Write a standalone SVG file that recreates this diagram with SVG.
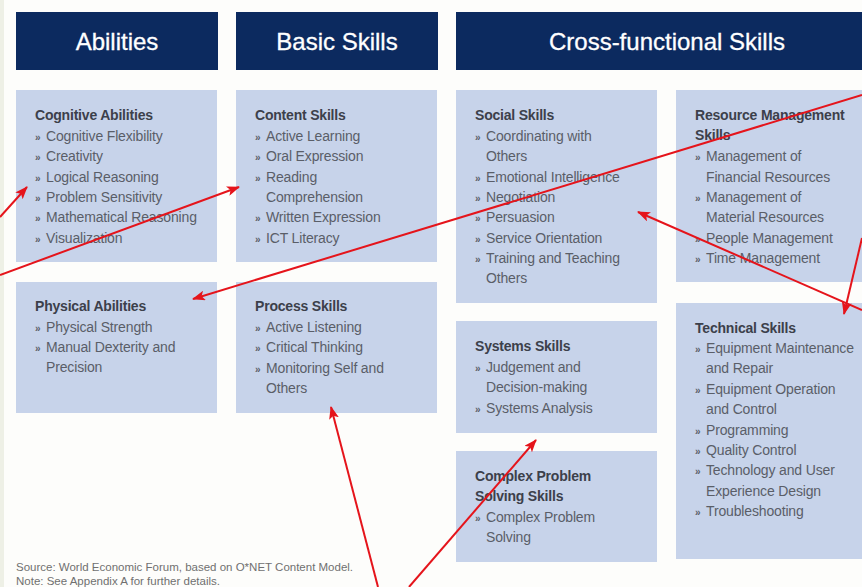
<svg xmlns="http://www.w3.org/2000/svg" width="862" height="587" viewBox="0 0 862 587">
  <style>
    .hdr { fill: #0c2a5f; }
    .hdr-t { font-family: "Liberation Sans", Arial, sans-serif; font-size: 24px; fill: #ffffff; text-anchor: middle; stroke: #ffffff; stroke-width: 0.3px; }
    .box { fill: #c7d3ea; }
    .ttl { font-family: "Liberation Sans", Arial, sans-serif; font-size: 14px; font-weight: bold; fill: #3c404b; letter-spacing: -0.2px; }
    .itm { font-family: "Liberation Sans", Arial, sans-serif; font-size: 14px; fill: #5a5e68; letter-spacing: -0.15px; }
    .bul { font-size: 10px; font-weight: bold; }
    .note { font-family: "Liberation Sans", Arial, sans-serif; font-size: 11.5px; fill: #707070; }
    .arrow { stroke: #e5141b; stroke-width: 2; fill: none; marker-end: url(#head); }
  </style>
  <defs>
    <marker id="head" viewBox="0 0 13 10" refX="12" refY="5" markerWidth="13" markerHeight="10" markerUnits="userSpaceOnUse" orient="auto">
      <path d="M0,0 L13,5 L0,10 L3,5 Z" fill="#e5141b"/>
    </marker>
  </defs>

  <!-- page -->
  <rect x="0" y="0" width="862" height="587" fill="#fdfdfb"/>
  <rect x="0" y="0" width="4" height="587" fill="#eef0e6"/>

  <!-- column headers -->
  <g id="hdr-abilities">
    <rect class="hdr" x="16" y="12" width="202" height="58"/>
    <text class="hdr-t" x="117" y="50">Abilities</text>
  </g>
  <g id="hdr-basic">
    <rect class="hdr" x="236" y="12" width="202" height="58"/>
    <text class="hdr-t" x="337" y="50">Basic Skills</text>
  </g>
  <g id="hdr-cross">
    <rect class="hdr" x="456" y="12" width="420" height="58"/>
    <text class="hdr-t" x="667" y="50">Cross-functional Skills</text>
  </g>

  <!-- Abilities -->
  <g id="cognitive">
    <rect class="box" x="16" y="90" width="201" height="172"/>
    <text class="ttl" x="35" y="120">Cognitive Abilities</text>
    <text class="itm" x="35" y="141"><tspan class="bul">»</tspan><tspan x="46">Cognitive Flexibility</tspan></text>
    <text class="itm" x="35" y="161"><tspan class="bul">»</tspan><tspan x="46">Creativity</tspan></text>
    <text class="itm" x="35" y="182"><tspan class="bul">»</tspan><tspan x="46">Logical Reasoning</tspan></text>
    <text class="itm" x="35" y="202"><tspan class="bul">»</tspan><tspan x="46">Problem Sensitivity</tspan></text>
    <text class="itm" x="35" y="222"><tspan class="bul">»</tspan><tspan x="46">Mathematical Reasoning</tspan></text>
    <text class="itm" x="35" y="243"><tspan class="bul">»</tspan><tspan x="46">Visualization</tspan></text>
  </g>
  <g id="physical">
    <rect class="box" x="16" y="282" width="201" height="131"/>
    <text class="ttl" x="35" y="311">Physical Abilities</text>
    <text class="itm" x="35" y="332"><tspan class="bul">»</tspan><tspan x="46">Physical Strength</tspan></text>
    <text class="itm" x="35" y="352"><tspan class="bul">»</tspan><tspan x="46">Manual Dexterity and</tspan></text>
    <text class="itm" x="46" y="372">Precision</text>
  </g>

  <!-- Basic Skills -->
  <g id="content">
    <rect class="box" x="236" y="90" width="201" height="172"/>
    <text class="ttl" x="255" y="120">Content Skills</text>
    <text class="itm" x="255" y="141"><tspan class="bul">»</tspan><tspan x="266">Active Learning</tspan></text>
    <text class="itm" x="255" y="161"><tspan class="bul">»</tspan><tspan x="266">Oral Expression</tspan></text>
    <text class="itm" x="255" y="182"><tspan class="bul">»</tspan><tspan x="266">Reading</tspan></text>
    <text class="itm" x="266" y="202">Comprehension</text>
    <text class="itm" x="255" y="222"><tspan class="bul">»</tspan><tspan x="266">Written Expression</tspan></text>
    <text class="itm" x="255" y="243"><tspan class="bul">»</tspan><tspan x="266">ICT Literacy</tspan></text>
  </g>
  <g id="process">
    <rect class="box" x="236" y="282" width="201" height="131"/>
    <text class="ttl" x="255" y="311">Process Skills</text>
    <text class="itm" x="255" y="332"><tspan class="bul">»</tspan><tspan x="266">Active Listening</tspan></text>
    <text class="itm" x="255" y="352"><tspan class="bul">»</tspan><tspan x="266">Critical Thinking</tspan></text>
    <text class="itm" x="255" y="373"><tspan class="bul">»</tspan><tspan x="266">Monitoring Self and</tspan></text>
    <text class="itm" x="266" y="393">Others</text>
  </g>

  <!-- Cross-functional Skills -->
  <g id="social">
    <rect class="box" x="456" y="90" width="201" height="213"/>
    <text class="ttl" x="475" y="120">Social Skills</text>
    <text class="itm" x="475" y="141"><tspan class="bul">»</tspan><tspan x="486">Coordinating with</tspan></text>
    <text class="itm" x="486" y="161">Others</text>
    <text class="itm" x="475" y="182"><tspan class="bul">»</tspan><tspan x="486">Emotional Intelligence</tspan></text>
    <text class="itm" x="475" y="202"><tspan class="bul">»</tspan><tspan x="486">Negotiation</tspan></text>
    <text class="itm" x="475" y="222"><tspan class="bul">»</tspan><tspan x="486">Persuasion</tspan></text>
    <text class="itm" x="475" y="243"><tspan class="bul">»</tspan><tspan x="486">Service Orientation</tspan></text>
    <text class="itm" x="475" y="263"><tspan class="bul">»</tspan><tspan x="486">Training and Teaching</tspan></text>
    <text class="itm" x="486" y="283">Others</text>
  </g>
  <g id="resource">
    <rect class="box" x="676" y="90" width="190" height="192"/>
    <text class="ttl" x="695" y="120">Resource Management</text>
    <text class="ttl" x="695" y="140">Skills</text>
    <text class="itm" x="695" y="161"><tspan class="bul">»</tspan><tspan x="706">Management of</tspan></text>
    <text class="itm" x="706" y="182">Financial Resources</text>
    <text class="itm" x="695" y="202"><tspan class="bul">»</tspan><tspan x="706">Management of</tspan></text>
    <text class="itm" x="706" y="222">Material Resources</text>
    <text class="itm" x="695" y="243"><tspan class="bul">»</tspan><tspan x="706">People Management</tspan></text>
    <text class="itm" x="695" y="263"><tspan class="bul">»</tspan><tspan x="706">Time Management</tspan></text>
  </g>
  <g id="systems">
    <rect class="box" x="456" y="321" width="201" height="112"/>
    <text class="ttl" x="475" y="351">Systems Skills</text>
    <text class="itm" x="475" y="372"><tspan class="bul">»</tspan><tspan x="486">Judgement and</tspan></text>
    <text class="itm" x="486" y="392">Decision-making</text>
    <text class="itm" x="475" y="413"><tspan class="bul">»</tspan><tspan x="486">Systems Analysis</tspan></text>
  </g>
  <g id="complex">
    <rect class="box" x="456" y="451" width="201" height="111"/>
    <text class="ttl" x="475" y="481">Complex Problem</text>
    <text class="ttl" x="475" y="501">Solving Skills</text>
    <text class="itm" x="475" y="522"><tspan class="bul">»</tspan><tspan x="486">Complex Problem</tspan></text>
    <text class="itm" x="486" y="542">Solving</text>
  </g>
  <g id="technical">
    <rect class="box" x="676" y="303" width="190" height="256"/>
    <text class="ttl" x="695" y="333">Technical Skills</text>
    <text class="itm" x="695" y="353"><tspan class="bul">»</tspan><tspan x="706">Equipment Maintenance</tspan></text>
    <text class="itm" x="706" y="373">and Repair</text>
    <text class="itm" x="695" y="394"><tspan class="bul">»</tspan><tspan x="706">Equipment Operation</tspan></text>
    <text class="itm" x="706" y="414">and Control</text>
    <text class="itm" x="695" y="435"><tspan class="bul">»</tspan><tspan x="706">Programming</tspan></text>
    <text class="itm" x="695" y="455"><tspan class="bul">»</tspan><tspan x="706">Quality Control</tspan></text>
    <text class="itm" x="695" y="475"><tspan class="bul">»</tspan><tspan x="706">Technology and User</tspan></text>
    <text class="itm" x="706" y="496">Experience Design</text>
    <text class="itm" x="695" y="516"><tspan class="bul">»</tspan><tspan x="706">Troubleshooting</tspan></text>
  </g>

  <!-- footnote -->
  <g id="footnote">
    <text class="note" x="16" y="571">Source: World Economic Forum, based on O*NET Content Model.</text>
    <text class="note" x="16" y="585">Note: See Appendix A for further details.</text>
  </g>

  <!-- red annotation arrows -->
  <g id="connectors">
    <line class="arrow" x1="0" y1="217" x2="27" y2="187"/>
    <line class="arrow" x1="0" y1="275" x2="239" y2="187"/>
    <line class="arrow" x1="862" y1="95" x2="193" y2="299"/>
    <line class="arrow" x1="862" y1="310" x2="638" y2="212"/>
    <line class="arrow" x1="862" y1="238" x2="844" y2="314"/>
    <line class="arrow" x1="378" y1="587" x2="331" y2="407"/>
    <line class="arrow" x1="409" y1="587" x2="536" y2="440"/>
  </g>
</svg>
